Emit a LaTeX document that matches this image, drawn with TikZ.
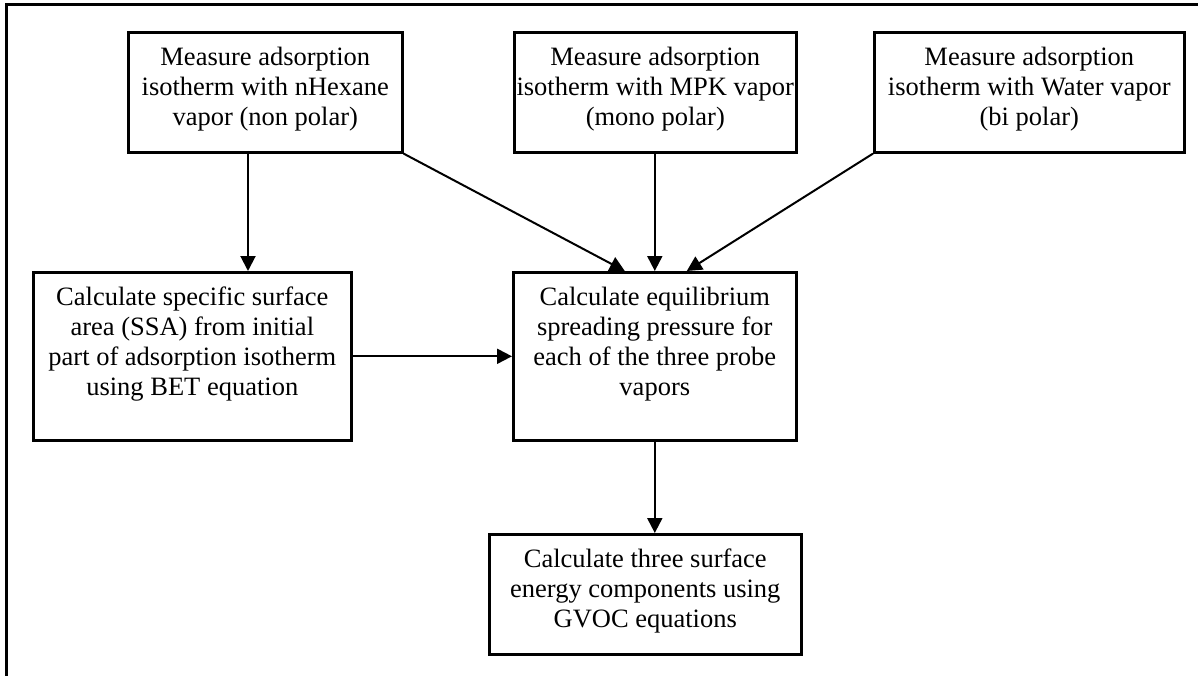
\documentclass[tikz,border=0pt]{standalone}
\usepackage{fontspec}
\setmainfont{Liberation Serif}
\usetikzlibrary{arrows.meta}
\tikzset{
  box/.style={draw, line width=2.6pt, anchor=north west, inner sep=0pt},
  txt/.style={anchor=north, align=center, inner sep=0pt, font=\fontsize{26.5}{30}\selectfont},
  conn/.style={line width=2pt, -{Triangle[length=15pt,width=15pt]}},
  frame/.style={line width=3pt}
}
\begin{document}
\begin{tikzpicture}[x=1pt,y=-1pt]
\useasboundingbox (0,0) rectangle (1198,676);
\draw[frame] (6,676) -- (6,5) -- (1198,5);
% boxes
\node[box, minimum width=274pt, minimum height=120pt] (A) at (127,31) {};
\node[box, minimum width=282pt, minimum height=120pt] (D) at (513,31) {};
\node[box, minimum width=310pt, minimum height=120pt] (E) at (873,31) {};
\node[box, minimum width=318pt, minimum height=168pt] (B) at (32,271) {};
\node[box, minimum width=283pt, minimum height=168pt] (C) at (512,271) {};
\node[box, minimum width=312pt, minimum height=120pt] (F) at (488,533) {};
% texts
\node[txt] (At) at ([yshift=-16pt]A.north) {Measure adsorption\\isotherm with nHexane\\vapor (non polar)};
\node[txt] (Dt) at ([yshift=-16pt]D.north) {Measure adsorption\\isotherm with MPK vapor\\(mono polar)};
\node[txt] (Et) at ([yshift=-16pt]E.north) {Measure adsorption\\isotherm with Water vapor\\(bi polar)};
\node[txt] (Bt) at ([yshift=-16pt]B.north) {Calculate specific surface\\area (SSA) from initial\\part of adsorption isotherm\\using BET equation};
\node[txt] (Ct) at ([yshift=-16pt]C.north) {Calculate equilibrium\\spreading pressure for\\each of the three probe\\vapors};
\node[txt] (Ft) at ([yshift=-16pt]F.north) {Calculate three surface\\energy components using\\GVOC equations};
% connectors
\coordinate (Ab) at (248,151);
\coordinate (Bt0) at (248,271);
\draw[conn] (Ab) -- (Bt0);
\draw[conn] (A.south east) -- ([xshift=-30pt]C.north);
\draw[conn] (D.south -| C.north) -- (C.north);
\draw[conn] (E.south west) -- ([xshift=32pt]C.north);
\draw[conn] (B.east) -- (C.west);
\coordinate (Ftop) at (C.north |- F.north);
\draw[conn] (C.south) -- (Ftop);
\end{tikzpicture}
\end{document}
